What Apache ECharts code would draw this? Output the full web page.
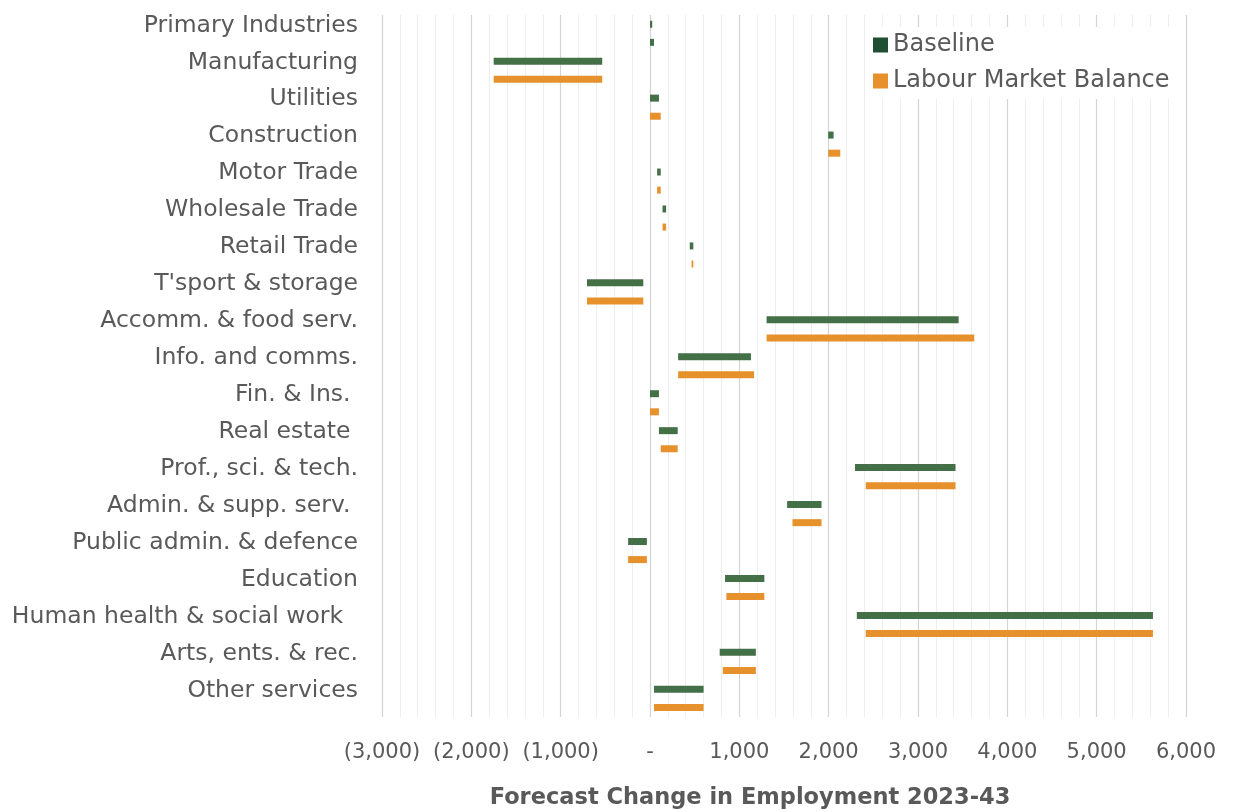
<!DOCTYPE html>
<html>
<head>
<meta charset="utf-8">
<title>Forecast Change in Employment 2023-43</title>
<script src="https://cdn.jsdelivr.net/npm/echarts@6/dist/echarts.min.js"></script>
<style>
  html, body { margin: 0; padding: 0; background: #fff; }
  #chart { width: 1237px; height: 812px; }
</style>
</head>
<body>
<div id="chart"></div>
<script>
// Sectors, top to bottom
const categories = [
  'Primary Industries', 'Manufacturing', 'Utilities', 'Construction', 'Motor Trade',
  'Wholesale Trade', 'Retail Trade', "T'sport & storage", 'Accomm. & food serv.',
  'Info. and comms.', 'Fin. & Ins. ', 'Real estate ', 'Prof., sci. & tech.',
  'Admin. & supp. serv. ', 'Public admin. & defence', 'Education',
  'Human health & social work  ', 'Arts, ents. & rec.', 'Other services'
];

// Range of forecast change (low end, high end) for each scenario
const baselineLow  = [0, -1750, 0, 1995, 80, 140, 445, -705, 1305, 315, 0, 100, 2295, 1535, -245, 840, 2315, 780, 45];
const baselineHigh = [25, -535, 100, 2055, 120, 180, 485, -75, 3455, 1130, 100, 310, 3420, 1920, -35, 1280, 5630, 1185, 600];
const lmbLow       = [0, -1750, 0, 1995, 80, 140, 465, -705, 1305, 315, 0, 120, 2415, 1595, -245, 855, 2415, 815, 45];
const lmbHigh      = [45, -535, 120, 2130, 120, 180, 485, -75, 3630, 1165, 100, 310, 3420, 1920, -35, 1280, 5630, 1185, 600];

const seriesNames = ['Baseline', 'Labour Market Balance'];

// Axis range
const xMin = -3000;
const xMax = 6000;
const xStep = 1000;

const FONT = 'DejaVu Sans';
const TEXT = '#595959';
const GREEN = '#437047';
const GREEN_DARK = '#1f4e33';
const ORANGE = '#e6912b';

function tickLabel(v) {
  if (v === 0) return '-';
  const s = Math.abs(v).toLocaleString('en-US');
  return v < 0 ? '(' + s + ')' : s;
}

// Rows whose second bar is drawn in the baseline colour
const sameColourRows = ['Primary Industries'];

function rangeData(lows, highs, useOverride) {
  return categories.map((c, i) => {
    const item = { value: [i, lows[i], highs[i]] };
    if (useOverride && sameColourRows.indexOf(c) >= 0) {
      item.itemStyle = { color: GREEN };
    }
    return item;
  });
}

function makeRender(shift) {
  return function (params, api) {
    const idx = api.value(0);
    const a = api.coord([api.value(1), idx]);
    const b = api.coord([api.value(2), idx]);
    const band = api.size([0, 1])[1];
    const h = 7;
    const cy = a[1] + shift * band;
    const x0 = Math.min(a[0], b[0]);
    const w = Math.max(Math.abs(b[0] - a[0]), 1);
    return {
      type: 'rect',
      shape: { x: x0, y: cy - h / 2, width: w, height: h },
      style: { fill: api.visual('color') }
    };
  };
}

const chart = echarts.init(document.getElementById('chart'), null, { renderer: 'canvas' });

chart.setOption({
  backgroundColor: '#ffffff',
  animation: false,
  grid: { left: 382, right: 51, top: 15, bottom: 95, containLabel: false },
  legend: {
    orient: 'vertical',
    left: 867,
    top: 27,
    backgroundColor: '#ffffff',
    padding: [6, 10, 6, 6],
    itemWidth: 15,
    itemHeight: 15,
    itemGap: 12,
    icon: 'rect',
    textStyle: { fontFamily: FONT, fontSize: 24, color: TEXT, lineHeight: 22 },
    data: [
      { name: seriesNames[0], itemStyle: { color: GREEN_DARK } },
      { name: seriesNames[1], itemStyle: { color: ORANGE } }
    ]
  },
  xAxis: {
    type: 'value',
    min: xMin,
    max: xMax,
    interval: xStep,
    axisLine: { show: false },
    axisTick: { show: false },
    axisLabel: {
      formatter: tickLabel,
      fontFamily: FONT,
      fontSize: 21,
      color: TEXT,
      margin: 25
    },
    splitLine: { show: true, lineStyle: { color: '#d4d4d4', width: 1.2 } },
    minorTick: { show: false, splitNumber: 5 },
    minorSplitLine: { show: true, lineStyle: { color: '#eeeeee', width: 1 } }
  },
  yAxis: {
    type: 'category',
    data: categories,
    inverse: true,
    axisLine: { show: false },
    axisTick: { show: false },
    splitLine: { show: false },
    axisLabel: {
      fontFamily: FONT,
      fontSize: 23.5,
      color: TEXT,
      margin: 24,
      verticalAlign: 'bottom',
      lineHeight: 16
    }
  },
  graphic: [{
    type: 'text',
    x: 750,
    y: 798,
    style: {
      text: 'Forecast Change in Employment 2023-43',
      fontFamily: FONT,
      fontSize: 22.5,
      fontWeight: 'bold',
      fill: TEXT,
      textAlign: 'center',
      textVerticalAlign: 'middle'
    }
  }],
  series: [
    {
      name: seriesNames[0],
      type: 'custom',
      itemStyle: { color: GREEN },
      encode: { x: [1, 2], y: 0 },
      renderItem: makeRender(-0.25),
      data: rangeData(baselineLow, baselineHigh, false)
    },
    {
      name: seriesNames[1],
      type: 'custom',
      itemStyle: { color: ORANGE },
      encode: { x: [1, 2], y: 0 },
      renderItem: makeRender(0.24),
      data: rangeData(lmbLow, lmbHigh, true)
    }
  ]
});
</script>
</body>
</html>
